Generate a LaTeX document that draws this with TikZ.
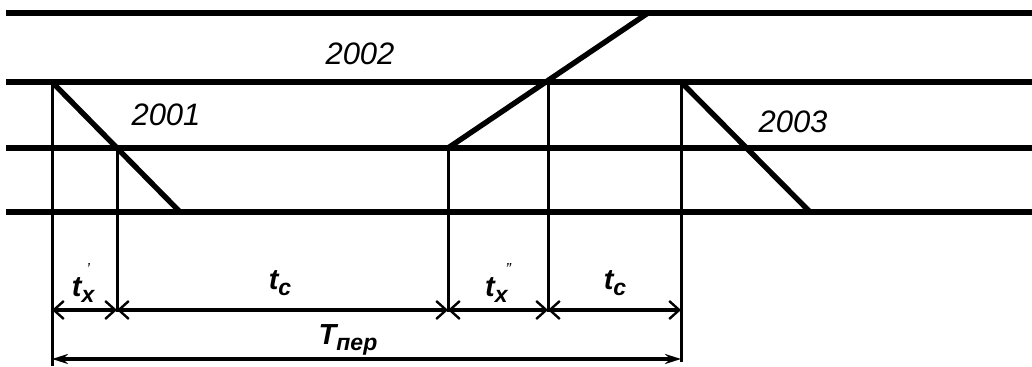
\documentclass[tikz,border=0pt]{standalone}
\usepackage{fontspec}
\setmainfont{Liberation Sans}
\usetikzlibrary{arrows.meta}

\newcommand{\lowidx}[1]{\raisebox{-0.35ex}{\fontsize{11.5}{12}\selectfont #1}}
\newcommand{\hiprime}[1]{\raisebox{1.45ex}{\fontsize{8}{8}\selectfont\mdseries #1}}

\begin{document}
\begin{tikzpicture}[
    x=0.5pt, y=-0.5pt,
    track/.style  = {line width=3.3pt},
    route/.style  = {line width=2.7pt},
    vline/.style  = {line width=1.5pt},
    dimline/.style = {line width=2pt,
                      {Straight Barb[length=5pt,width=9pt,line width=1.2pt]}-{Straight Barb[length=5pt,width=9pt,line width=1.2pt]}},
    totline/.style = {line width=2pt,
                      {Stealth[length=8pt,width=5pt]}-{Stealth[length=8pt,width=5pt]}},
    numlbl/.style = {font=\fontsize{15.5}{16}\selectfont\itshape, inner sep=0pt},
    tlbl/.style   = {font=\fontsize{14.5}{15}\selectfont\itshape\bfseries, inner sep=0pt}
  ]
  \useasboundingbox (0,0) rectangle (1032,367);

  % Tracks
  \foreach \ty [count=\k] in {13,82,148,212} {
    \coordinate (w\k) at (6,\ty);
    \coordinate (e\k) at (1032,\ty);
    \draw[track] (w\k) -- (e\k);
  }

  % Key points
  \coordinate (a2) at (52,82);
  \coordinate (b3) at (117,148);
  \coordinate (c3) at (448,148);
  \coordinate (d2) at (548,82);
  \coordinate (e2x) at (681,82);
  \coordinate (r1) at (180,212);
  \coordinate (r2) at (648,13);
  \coordinate (r3) at (810,212);

  % Routes
  \draw[route] (a2) -- (r1);
  \draw[route] (c3) -- (r2);
  \draw[route] (e2x) -- (r3);

  \node[numlbl] (n2001) at (166,115) {2001};
  \node[numlbl] (n2002) at (360,54) {2002};
  \node[numlbl] (n2003) at (793,122) {2003};

  % Dimension points
  \coordinate (pa) at (52,310);
  \coordinate (pb) at (117,310);
  \coordinate (pc) at (448,310);
  \coordinate (pd) at (548,310);
  \coordinate (pe) at (681,310);
  \coordinate (qa) at (52,359);
  \coordinate (qe) at (681,359);
  \coordinate (fa) at (52,366);
  \coordinate (fe) at (681,362);

  % Extension lines
  \draw[vline] (a2) -- (fa);
  \draw[vline] (b3) -- ([yshift=-1pt]pb);
  \draw[vline] (c3) -- ([yshift=-1pt]pc);
  \draw[vline] (d2) -- ([yshift=-1pt]pd);
  \draw[vline] (e2x) -- (fe);

  % Dimensions
  \draw[dimline] (pa) -- (pb);
  \draw[dimline] (pb) -- (pc);
  \draw[dimline] (pc) -- (pd);
  \draw[dimline] (pd) -- (pe);
  \draw[totline] (qa) -- (qe);

  \node[tlbl] (tx1) at (83,283) {t\lowidx{x}\kern-4pt\hiprime{'}\kern2pt};
  \node[tlbl] (tc1) at (280,283) {t\lowidx{c}};
  \node[tlbl] (tx2) at (498,283) {t\lowidx{x}\kern-1pt\hiprime{''}};
  \node[tlbl] (tc2) at (615,283) {t\lowidx{c}};
  \node[tlbl] (tper) at (348,340) {T\lowidx{пер}};
\end{tikzpicture}
\end{document}
